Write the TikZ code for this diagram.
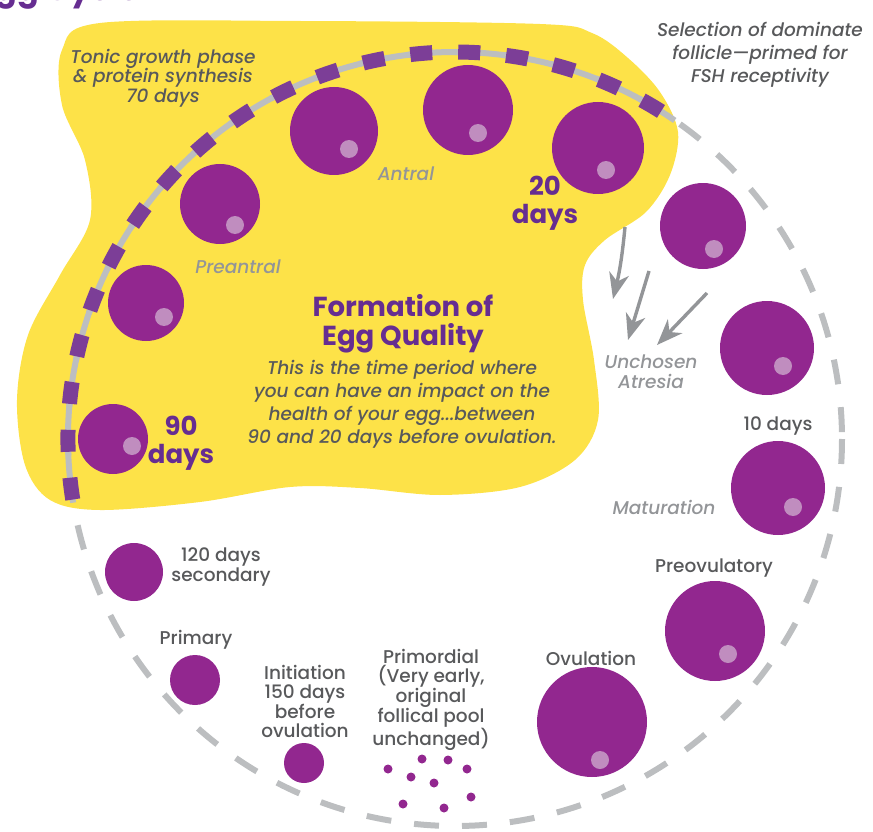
\documentclass[tikz,border=0pt]{standalone}
\usepackage{fontspec}
\setmainfont{Poppins}[UprightFont=* Medium, ItalicFont=* Medium Italic, BoldFont=* Bold, BoldItalicFont=* Bold Italic]
\usetikzlibrary{arrows.meta}
\definecolor{yel}{RGB}{253,226,72}
\definecolor{fol}{RGB}{146,39,143}
\definecolor{folhi}{RGB}{192,141,191}
\definecolor{dashpurple}{RGB}{124,62,151}
\definecolor{headpurple}{RGB}{102,45,145}
\definecolor{txtgray}{RGB}{88,89,91}
\definecolor{ltgray}{RGB}{147,149,152}
\definecolor{ringgray}{RGB}{188,190,192}
\tikzset{
  foll/.style={circle, fill=fol, inner sep=0pt, minimum size=#1},
  hilite/.style={circle, fill=folhi, inner sep=0pt, minimum size=18pt},
  seed/.style={circle, fill=fol, inner sep=0pt, minimum size=9pt},
  lbl/.style={text=txtgray, align=center, inner sep=0pt, font=\fontsize{18.5}{19}\selectfont},
  itl/.style={text=txtgray, align=center, inner sep=0pt, font=\fontsize{18.5}{19.5}\selectfont\itshape},
  stagelbl/.style={text=ltgray, align=center, inner sep=0pt, font=\fontsize{18.5}{20}\selectfont\itshape},
  headlbl/.style={text=headpurple, align=center, inner sep=0pt, font=\fontsize{26}{28}\selectfont\bfseries},
  arrowline/.style={draw=ltgray, line width=3.4pt, -{Stealth[length=26pt,width=20pt,inset=8pt]}},
}
\begin{document}
\begin{tikzpicture}[x=1pt,y=-1pt]
\useasboundingbox (0,0) rectangle (873,832);
% yellow blob
\fill[yel] plot[smooth cycle, tension=0.55] coordinates {
 (100,23) (300,21) (540,24) (592,33) (628,58) (660,92) (678,132) (670,175) (646,212)
 (605,240) (585,265) (583,300) (594,360) (598,420) (575,460) (520,487) (440,495)
 (360,488) (290,487) (200,502) (100,510) (50,500) (25,465) (17,400) (28,335)
 (60,275) (90,220) (85,160) (62,105) (62,50)};
% title (cropped at the top edge, as in the reference)
\node[anchor=base east, text=headpurple, inner sep=0pt, font=\fontsize{32}{32}\selectfont\bfseries] (title) at (139,1) {Egg Cycle};
% ring
\coordinate (ctr) at (455,439);
\draw[ringgray, line width=6pt, dash pattern=on 25pt off 23pt] (ctr) circle[radius=387];
\draw[ringgray, line width=6pt] (ctr) ++(171:387) arc[start angle=171, end angle=304.6, radius=387];
\draw[dashpurple, line width=15pt, dash pattern=on 22pt off 26pt] (ctr) ++(171:387) arc[start angle=171, end angle=304.6, radius=387];
% follicles
\node[foll=88pt] (f1) at (334,131) {};  \node[hilite] (h1) at (349,149) {};
\node[foll=90pt] (f2) at (468,110) {};  \node[hilite] (h2) at (478,133) {};
\node[foll=92pt] (f3) at (598,148) {};  \node[hilite] (h3) at (606,170) {};
\node[foll=80pt] (f4) at (220,204) {};  \node[hilite] (h4) at (235,225) {};
\node[foll=76pt] (f5) at (146,303) {};  \node[hilite] (h5) at (164,317) {};
\node[foll=70pt] (f6) at (113,439) {};  \node[hilite] (h6) at (132,446) {};
\node[foll=86pt] (f7) at (703,226) {};  \node[hilite] (h7) at (714,249) {};
\node[foll=94pt] (f8) at (767,348) {};  \node[hilite] (h8) at (783,366) {};
\node[foll=94pt] (f9) at (778,488) {};  \node[hilite] (h9) at (793,507) {};
\node[foll=100pt] (f10) at (715,631) {}; \node[hilite] (h10) at (728,654) {};
\node[foll=110pt] (f11) at (592,722) {}; \node[hilite] (h11) at (600,760) {};
\node[foll=58pt] (f12) at (134,572) {};
\node[foll=50pt] (f13) at (195,680) {};
\node[foll=40pt] (f14) at (304,763) {};
% primordial seeds
\node[seed] (s1) at (388,769) {};
\node[seed] (s2) at (422,759) {};
\node[seed] (s3) at (448,760) {};
\node[seed] (s4) at (467,769) {};
\node[seed] (s5) at (411,777) {};
\node[seed] (s6) at (434,783) {};
\node[seed] (s7) at (403,804) {};
\node[seed] (s8) at (444,808) {};
\node[seed] (s9) at (471,797) {};
% texts
\node[itl] (tonic) at (163,78) {Tonic growth phase\\ \& protein synthesis\\ 70 days};
\node[itl, font=\fontsize{18.5}{23}\selectfont\itshape] (select) at (760,55) {Selection of dominate\\ follicle—primed for\\ FSH receptivity};
\node[stagelbl] (antral) at (406,174) {Antral};
\node[stagelbl] (preantral) at (238,267) {Preantral};
\node[headlbl] (d20) at (545,203) {20\\ days};
\node[headlbl] (d90) at (181,443) {90\\ days};
\node[headlbl, font=\fontsize{27.5}{29}\selectfont\bfseries] (formation) at (403,324) {Formation of\\ Egg Quality};
\node[itl, font=\fontsize{18.5}{23}\selectfont\itshape] (para) at (402,404) {This is the time period where\\ you can have an impact on the\\ health of your egg...between\\ 90 and 20 days before ovulation.};
\node[stagelbl] (atresia) at (651,372) {Unchosen\\ Atresia};
\node[lbl] (d10) at (778,426) {10 days};
\node[stagelbl] (matur) at (664,507) {Maturation};
\node[lbl] (preov) at (714,568) {Preovulatory};
\node[lbl] (ovul) at (591,658) {Ovulation};
\node[lbl, font=\fontsize{18.5}{20}\selectfont] (d120) at (221,567) {120 days\\ secondary};
\node[lbl] (primary) at (196,640) {Primary};
\node[lbl] (init) at (305,701) {Initiation\\ 150 days\\ before\\ ovulation};
\node[lbl] (primordial) at (431,700) {Primordial\\ (Very early,\\ original\\ follical pool\\ unchanged)};
% atresia arrows
\coordinate (a1s) at (625,227); \coordinate (a1e) at (613,299);
\coordinate (a2s) at (649,271); \coordinate (a2e) at (628,340);
\coordinate (a3s) at (707,293); \coordinate (a3e) at (657,345);
\draw[arrowline] (a1s) to[bend left=4] (a1e);
\draw[arrowline] (a2s) -- (a2e);
\draw[arrowline] (a3s) -- (a3e);
\end{tikzpicture}
\end{document}
